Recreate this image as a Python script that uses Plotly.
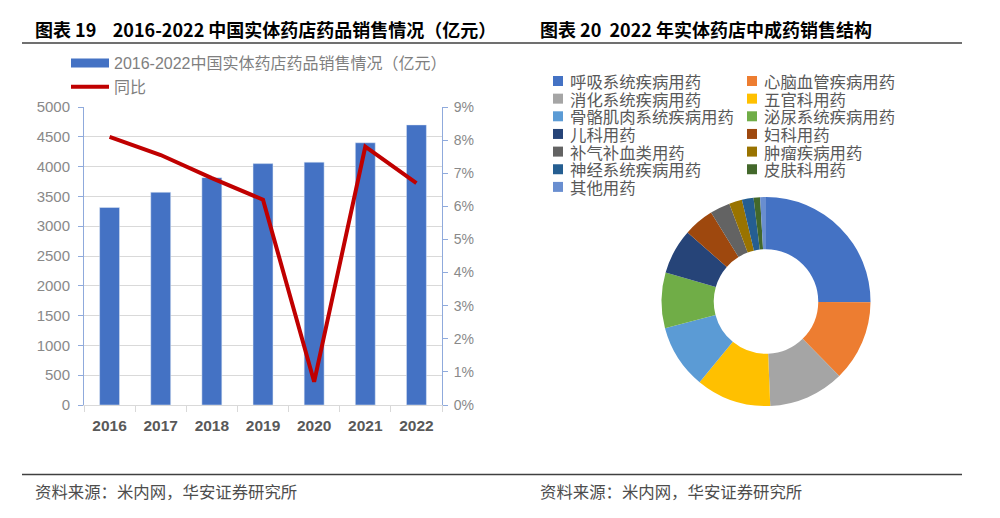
import plotly.graph_objects as go

W, H = 1000, 518

# ---- Data: left chart ----
years = ["2016", "2017", "2018", "2019", "2020", "2021", "2022"]
sales = [3315, 3570, 3815, 4050, 4075, 4400, 4700]          # 亿元
yoy = [0.081, 0.0755, 0.0685, 0.062, 0.007, 0.078, 0.067]   # 同比
bar_name = "2016-2022中国实体药店药品销售情况（亿元）"
line_name = "同比"

# ---- Data: right chart ----
categories = ["呼吸系统疾病用药", "心脑血管疾病用药", "消化系统疾病用药", "五官科用药",
              "骨骼肌肉系统疾病用药", "泌尿系统疾病用药", "儿科用药", "妇科用药",
              "补气补血类用药", "肿瘤疾病用药", "神经系统疾病用药", "皮肤科用药", "其他用药"]
shares = [25.1, 12.5, 11.7, 11.6, 9.9, 8.6, 7.0, 4.7, 3.1, 2.0, 1.8, 1.0, 0.9]
colors = ["#4472C4", "#ED7D31", "#A5A5A5", "#FFC000", "#5B9BD5", "#70AD47", "#264478",
          "#9E480E", "#636363", "#997300", "#255E91", "#43682B", "#698ED0"]

title_left = "图表 19    2016-2022 中国实体药店药品销售情况（亿元）"
title_right = "图表 20  2022 年实体药店中成药销售结构"
source = "资料来源：米内网，华安证券研究所"


def px(x):
    return x / W


def py(y):
    return 1 - y / H


CJK = "Noto Sans CJK SC"
LAT = "Liberation Sans, Noto Sans CJK SC"
AXIS_BLUE = "#8FAADC"
GRID = "#D9D9D9"

fig = go.Figure()

# legend proxy for the bar series (wide flat swatch like the original)
fig.add_trace(go.Scatter(x=[None], y=[None], mode="lines", name=bar_name,
                         line=dict(color="#4472C4", width=9), hoverinfo="skip"))
fig.add_trace(go.Bar(x=years, y=sales, name=bar_name, marker_color="#4472C4",
                     width=0.39, showlegend=False))
fig.add_trace(go.Scatter(x=years, y=yoy, name=line_name, yaxis="y2", mode="lines",
                         line=dict(color="#C00000", width=4)))

fig.add_trace(go.Pie(labels=categories, values=shares, hole=0.5, sort=False,
                     direction="clockwise", rotation=0, textinfo="none",
                     marker=dict(colors=colors, line=dict(width=0)),
                     showlegend=False,
                     domain=dict(x=[px(661.5), px(870.5)], y=[py(406), py(197)])))

fig.update_layout(
    width=W, height=H, margin=dict(l=0, r=0, t=0, b=0, autoexpand=False),
    paper_bgcolor="white", plot_bgcolor="white",
    font=dict(family=CJK, color="#595959"),
    xaxis=dict(domain=[px(84), px(442)], type="category", range=[-0.5, 6.5],
               showline=True, linecolor=GRID, linewidth=1, ticks="outside",
               tickson="boundaries", ticklen=6, tickcolor=GRID, showgrid=False,
               tickangle=0, automargin=False, ticklabelstandoff=6,
               tickfont=dict(family="Liberation Sans", size=15.5, color="#595959",
                             weight="bold")),
    yaxis=dict(domain=[py(405), py(107)], range=[0, 5000], dtick=500,
               showgrid=True, gridcolor=GRID, zeroline=False, automargin=False,
               showline=True, linecolor=AXIS_BLUE, ticks="outside", ticklen=5,
               tickcolor=AXIS_BLUE, ticklabelstandoff=5,
               tickfont=dict(family="Liberation Sans", size=15, color="#898989")),
    yaxis2=dict(overlaying="y", side="right", range=[0, 0.09], dtick=0.01,
                tickformat=".0%", showgrid=False, zeroline=False, automargin=False,
                showline=True, linecolor=AXIS_BLUE, ticks="outside", ticklen=5,
                tickcolor=AXIS_BLUE, ticklabelstandoff=3,
                tickfont=dict(family="Liberation Sans", size=14, color="#898989")),
    legend=dict(x=px(66), y=py(46), xanchor="left", yanchor="top",
                bgcolor="rgba(0,0,0,0)", itemwidth=38, tracegroupgap=0,
                font=dict(family=LAT, size=16, color="#7F7F7F")),
    bargap=0.6,
)

annotations = [
    dict(x=px(33), y=py(29), text="<b>" + title_left + "</b>",
         font=dict(family=CJK, size=18, color="#000000")),
    dict(x=px(538), y=py(29), text="<b>" + title_right + "</b>",
         font=dict(family=CJK, size=18, color="#000000")),
    dict(x=px(33), y=py(491), text=source,
         font=dict(family=CJK, size=16.4, color="#4D4D4D")),
    dict(x=px(538), y=py(491), text=source,
         font=dict(family=CJK, size=16.4, color="#4D4D4D")),
]

shapes = [
    dict(type="line", xref="paper", yref="paper", x0=px(22), x1=px(962),
         y0=py(43), y1=py(43), line=dict(color="#404040", width=1.3)),
    dict(type="line", xref="paper", yref="paper", x0=px(22), x1=px(962),
         y0=py(474.5), y1=py(474.5), line=dict(color="#404040", width=1.3)),
]

# two-column legend for the donut: coloured squares + one text block per column
col_x = [553, 747]
row0, row_step = 81, 17.65
base_size = row_step / 1.3     # line pitch of a multi-line annotation
for c in range(2):
    labs = categories[c::2]
    cols = colors[c::2]
    for r, col in enumerate(cols):
        yc = row0 + r * row_step
        shapes.append(dict(type="rect", xref="paper", yref="paper",
                           x0=px(col_x[c]), x1=px(col_x[c] + 10),
                           y0=py(yc + 5), y1=py(yc - 5), fillcolor=col,
                           line=dict(width=0)))
    text = "<br>".join('<span style="font-size:16.4px">%s</span>' % l for l in labs)
    yc_mid = row0 + (len(labs) - 1) * row_step / 2
    annotations.append(dict(x=px(col_x[c] + 15), y=py(yc_mid), text=text, align="left",
                            font=dict(family=CJK, size=base_size, color="#595959")))

for a in annotations:
    a.update(xref="paper", yref="paper", showarrow=False, xanchor="left", yanchor="middle")

fig.update_layout(annotations=annotations, shapes=shapes)

fig.write_html("out.html", config={"displayModeBar": False},
               post_script="document.body.style.margin='0';")
